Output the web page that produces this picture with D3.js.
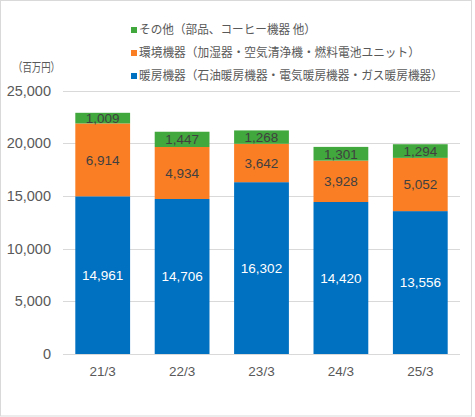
<!DOCTYPE html>
<html><head><meta charset="utf-8">
<script src="https://cdn.jsdelivr.net/npm/d3@7"></script>
<style>body{margin:0;background:#fff}svg{display:block;font-family:"Liberation Sans",Arial,"Noto Sans CJK JP",sans-serif}</style>
</head><body>
<svg id="c" width="475" height="417"></svg>
<script>
const categories = ["21/3","22/3","23/3","24/3","25/3"];
const heating = [14961,14706,16302,14420,13556];
const environment = [6914,4934,3642,3928,5052];
const others = [1009,1447,1268,1301,1294];
const yTicks = [0,5000,10000,15000,20000,25000];
const seriesNames = ["暖房機器（石油暖房機器・電気暖房機器・ガス暖房機器）","環境機器（加湿器・空気清浄機・燃料電池ユニット）","その他（部品、コーヒー機器 他）"];
const colors = ["#0070C0","#FA7E24","#41A83D"];
const labelColors = ["#ffffff","#404040","#404040"];
const legendWidths = [304,281,177];

const svg = d3.select("#c");
svg.append("rect").attr("x",0.5).attr("y",0.5).attr("width",471).attr("height",415.5).attr("fill","#fff").attr("stroke","#d9d9d9");

const x = d3.scaleBand().domain(categories).range([63,460]).paddingInner(0.31).paddingOuter(0.155);
const y = d3.scaleLinear().domain([0,25000]).range([354,90.5]);

svg.append("g").selectAll("line").data(yTicks).join("line")
  .attr("x1",63).attr("x2",460).attr("y1",d=>Math.round(y(d))+0.5).attr("y2",d=>Math.round(y(d))+0.5)
  .attr("stroke","#d9d9d9").attr("stroke-width",1);

const rows = categories.map((c,i)=>({cat:c,s0:heating[i],s1:environment[i],s2:others[i]}));
const stack = d3.stack().keys(["s0","s1","s2"])(rows);

stack.forEach((layer,k)=>{
  const g = svg.append("g");
  g.selectAll("rect").data(layer).join("rect")
    .attr("x",d=>x(d.data.cat)).attr("width",x.bandwidth())
    .attr("y",d=>y(d[1])).attr("height",d=>y(d[0])-y(d[1]))
    .attr("fill",colors[k]);
  g.selectAll("text").data(layer).join("text")
    .attr("x",d=>x(d.data.cat)+x.bandwidth()/2)
    .attr("y",d=>(y(d[0])+y(d[1]))/2)
    .attr("dy","0.36em").attr("text-anchor","middle")
    .attr("font-size",13.5).attr("fill",labelColors[k])
    .text(d=>d3.format(",")(d[1]-d[0]));
});

svg.append("line").attr("x1",63).attr("x2",460).attr("y1",354.5).attr("y2",354.5).attr("stroke","#d9d9d9");

const yAxis = d3.axisLeft(y).tickValues(yTicks).tickFormat(d3.format(",")).tickSize(0).tickPadding(0);
const ya = svg.append("g").attr("transform","translate(51,0)").call(yAxis);
ya.select(".domain").remove();
ya.selectAll("text").attr("font-size",14.5).attr("fill","#595959").attr("font-family",'"Liberation Sans",Arial,sans-serif');

const xAxis = d3.axisBottom(x).tickSize(0).tickPadding(0);
const xa = svg.append("g").attr("transform","translate(0,366)").call(xAxis);
xa.select(".domain").remove();
xa.selectAll("text").attr("font-size",13.5).attr("fill","#595959").attr("font-family",'"Liberation Sans",Arial,sans-serif');

const cjk = '"Noto Sans CJK JP","Noto Sans CJK SC",sans-serif';
svg.append("text").attr("x",13).attr("y",68).attr("dy","0.35em").attr("font-size",12).attr("fill","#595959")
  .attr("font-family",cjk).attr("textLength",47).attr("lengthAdjust","spacingAndGlyphs").text("（百万円）");

const legendOrder = [2,1,0];
const lg = svg.append("g");
legendOrder.forEach((k,i)=>{
  const yy = 30 + i*23;
  lg.append("rect").attr("x",131).attr("y",yy-3).attr("width",6).attr("height",6).attr("fill",colors[k]);
  lg.append("text").attr("x",139).attr("y",yy).attr("dy","0.35em").attr("font-size",12).attr("fill","#595959")
    .attr("font-family",cjk).attr("textLength",legendWidths[k]).attr("lengthAdjust","spacingAndGlyphs").text(seriesNames[k]);
});
</script>
</body></html>
